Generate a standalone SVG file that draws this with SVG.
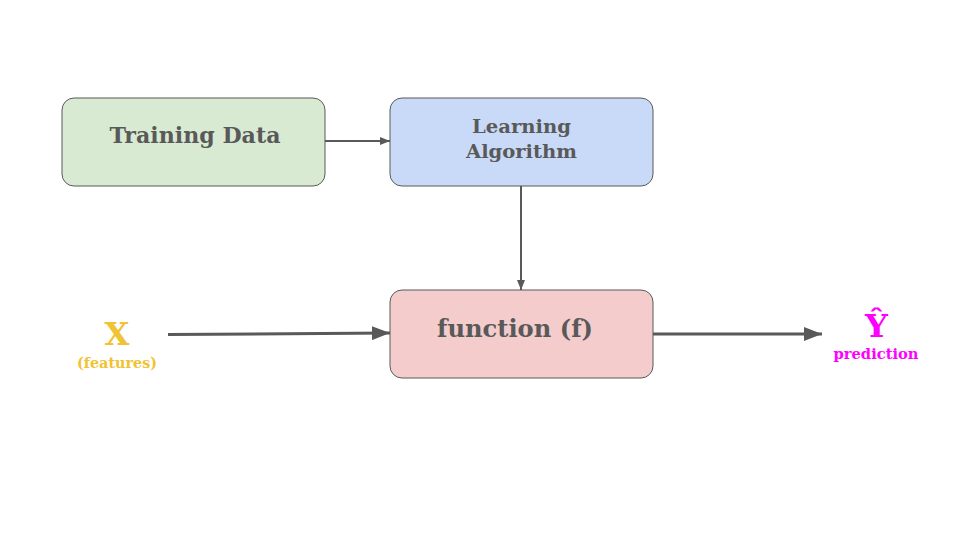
<svg xmlns="http://www.w3.org/2000/svg" width="960" height="540" viewBox="0 0 960 540">
<style>
.box{stroke:#595959;stroke-width:1}
.lbl{font-family:"DejaVu Serif","Liberation Serif",serif;font-weight:bold;fill:#595959;text-anchor:middle}
.conn{stroke:#595959;fill:none}
.side{font-family:"DejaVu Serif","Liberation Serif",serif;font-weight:bold;text-anchor:middle}
</style>
<defs>
<marker id="ah" markerWidth="10" markerHeight="8" refX="10" refY="4" orient="auto" markerUnits="userSpaceOnUse"><path d="M0,0 L10,4 L0,8 Z" fill="#595959"/></marker>
<marker id="ahL" markerWidth="18" markerHeight="14" refX="18" refY="7" orient="auto" markerUnits="userSpaceOnUse"><path d="M0,0 L18,7 L0,14 Z" fill="#595959"/></marker>
</defs>
<rect width="960" height="540" fill="#ffffff"/>
<g id="connectors">
<line class="conn" x1="325" y1="141" x2="390" y2="141" stroke-width="2" marker-end="url(#ah)"/>
<line class="conn" x1="521" y1="186" x2="521" y2="290" stroke-width="2" marker-end="url(#ah)"/>
<line class="conn" x1="168" y1="334.5" x2="390" y2="333" stroke-width="3" marker-end="url(#ahL)"/>
<line class="conn" x1="653" y1="334" x2="822" y2="334" stroke-width="3" marker-end="url(#ahL)"/>
</g>
<g id="training-data">
<rect class="box" x="62" y="98" width="263" height="88" rx="12" fill="#d9ead3"/>
<text class="lbl" x="195" y="143" font-size="22" textLength="171" lengthAdjust="spacingAndGlyphs">Training Data</text>
</g>
<g id="learning-algorithm">
<rect class="box" x="390" y="98" width="263" height="88" rx="12" fill="#c9daf8"/>
<text class="lbl" x="521.5" y="133" font-size="19" textLength="99" lengthAdjust="spacingAndGlyphs">Learning</text>
<text class="lbl" x="521.5" y="158" font-size="19" textLength="111" lengthAdjust="spacingAndGlyphs">Algorithm</text>
</g>
<g id="function">
<rect class="box" x="390" y="290" width="263" height="88" rx="12" fill="#f4cccc"/>
<text class="lbl" x="515" y="337" font-size="24" textLength="156" lengthAdjust="spacingAndGlyphs">function (f)</text>
</g>
<g id="input-x">
<text class="side" x="117" y="345" font-size="32" fill="#f1c232">X</text>
<text class="side" x="117" y="368" font-size="15" fill="#f1c232" textLength="80" lengthAdjust="spacingAndGlyphs">(features)</text>
</g>
<g id="output-y">
<text class="side" x="876.5" y="337" font-size="32" fill="#ff00ff">Ŷ</text>
<text class="side" x="876" y="359" font-size="15" fill="#ff00ff" textLength="85" lengthAdjust="spacingAndGlyphs">prediction</text>
</g>
</svg>
